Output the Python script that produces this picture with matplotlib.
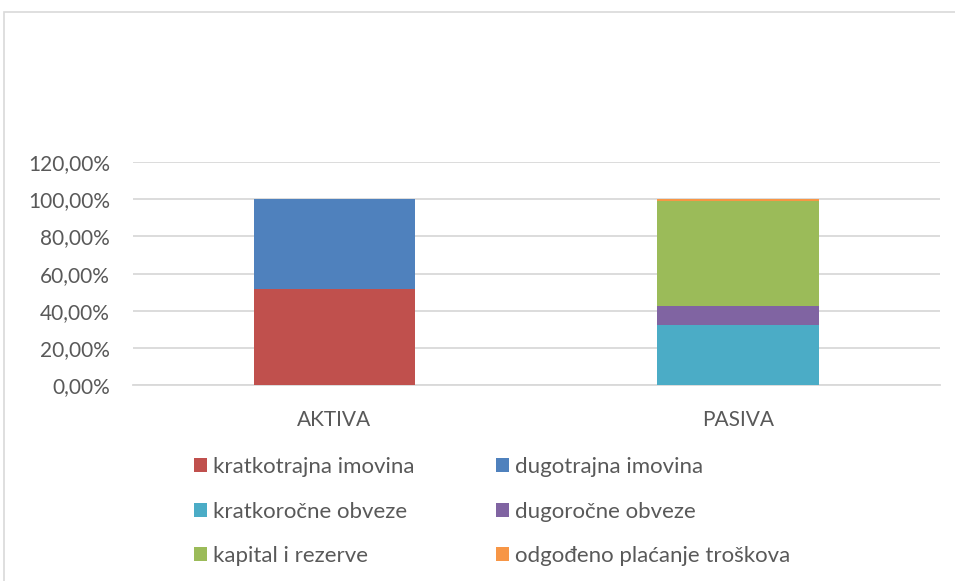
import matplotlib.pyplot as plt
from matplotlib.patches import Rectangle, Patch
from matplotlib.ticker import FuncFormatter

plt.rcParams['font.family'] = ['Lato', 'DejaVu Sans']

categories = ['AKTIVA', 'PASIVA']
series_names = ['kratkotrajna imovina', 'dugotrajna imovina', 'kratkoročne obveze',
                'dugoročne obveze', 'kapital i rezerve', 'odgođeno plaćanje troškova']
# share of each item per side of the balance sheet
values = {
    'kratkotrajna imovina': [0.515, 0.0],
    'dugotrajna imovina': [0.485, 0.0],
    'kratkoročne obveze': [0.0, 0.323],
    'dugoročne obveze': [0.0, 0.102],
    'kapital i rezerve': [0.0, 0.567],
    'odgođeno plaćanje troškova': [0.0, 0.008],
}
colors = ['#c0504d', '#4f81bd', '#4bacc6', '#8064a2', '#9bbb59', '#f79646']

fig = plt.figure(figsize=(9.55, 5.81), dpi=100)
ax = fig.add_axes([0.139, 0.337, 0.845, 0.384])

# chart frame
fig.patches.append(Rectangle((4 / 955, -0.05), 1.0, 1 - 12 / 581 + 0.05, transform=fig.transFigure,
                             fill=False, edgecolor='#d9d9d9', linewidth=1.2))

x = range(len(categories))
bottom = [0.0, 0.0]
for name, col in zip(series_names, colors):
    v = values[name]
    ax.bar(x, v, width=0.4, bottom=bottom, color=col, zorder=3)
    bottom = [b + a for b, a in zip(bottom, v)]

ax.set_xlim(-0.5, 1.5)
ax.set_ylim(0, 1.2)
ax.set_yticks([0, 0.2, 0.4, 0.6, 0.8, 1.0, 1.2])
ax.yaxis.set_major_formatter(FuncFormatter(lambda v, p: f'{v * 100:.2f}%'.replace('.', ',')))
ax.set_xticks(list(x))
ax.set_xticklabels(categories)
ax.tick_params(length=0, labelsize=15, labelcolor='#595959')
ax.tick_params(axis='x', pad=17.5)
ax.tick_params(axis='y', pad=16.5)
ax.grid(axis='y', color='#d9d9d9', linewidth=1.3, zorder=0)
for s in ['top', 'right', 'left']:
    ax.spines[s].set_visible(False)
ax.spines['bottom'].set_color('#d9d9d9')
ax.spines['bottom'].set_linewidth(1.3)

# legend laid out in rows of two
order = [0, 2, 4, 1, 3, 5]
handles = [Patch(facecolor=colors[i], label=series_names[i]) for i in order]
fig.legend(handles=handles, ncol=2, loc='upper left', bbox_to_anchor=(0.203, 0.213),
           frameon=False, fontsize=16, labelcolor='#595959', handlelength=0.58,
           handleheight=0.58, handletextpad=0.27, labelspacing=1.1, columnspacing=3.7,
           borderaxespad=0, borderpad=0)

fig.savefig('out.png', dpi=100)
